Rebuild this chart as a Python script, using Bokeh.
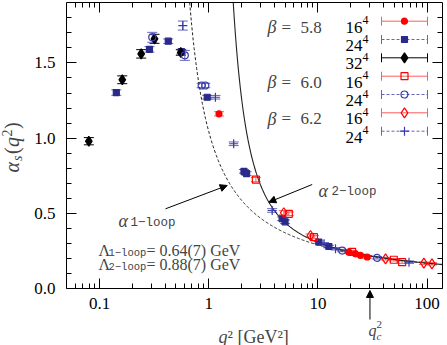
import numpy as np
from bokeh.plotting import figure
from bokeh.models import (ColumnDataSource, Whisker, TeeHead, Arrow, NormalHead, Label,
                          FixedTicker, LogAxis, LinearAxis, CustomJSTickFormatter, Range1d)
from bokeh.embed import file_html
from bokeh.resources import INLINE

# ---------------- data ----------------
# beta = 5.8, 16^4  (red filled circles)
b58_16_q2 = [1.24, 19.2, 22.1, 24.5, 28.3]
b58_16_a = [1.162, 0.243, 0.232, 0.222, 0.211]
b58_16_e = [0.014, 0.008, 0.008, 0.008, 0.008]
# beta = 5.8, 24^4  (blue filled squares)
b58_24_q2 = [0.142, 0.286, 0.425, 0.56, 0.967, 2.10, 2.22, 4.70, 5.00, 10.2, 12.6]
b58_24_a = [1.303, 1.590, 1.644, 1.575, 1.272, 0.780, 0.765, 0.465, 0.445, 0.310, 0.281]
b58_24_e = [0.018, 0.018, 0.015, 0.015, 0.012, 0.012, 0.012, 0.012, 0.012, 0.008, 0.008]
# beta = 5.8, 32^4  (black filled diamonds)
b58_32_q2 = [0.0795, 0.161, 0.240, 0.318, 0.554]
b58_32_a = [0.980, 1.388, 1.560, 1.660, 1.569]
b58_32_e = [0.024, 0.026, 0.028, 0.030, 0.018]
# beta = 6.0, 16^4  (red open squares)
b60_16_q2 = [2.70, 5.41, 9.2, 20.6, 49.6, 59.2]
b60_16_a = [0.725, 0.498, 0.343, 0.245, 0.193, 0.177]
b60_16_e = [0.014, 0.012, 0.010, 0.008, 0.008, 0.008]
# beta = 6.0, 24^4  (blue open circles)
b60_24_q2 = [0.303, 0.603, 0.86, 0.93, 16.7, 34.9]
b60_24_a = [1.670, 1.550, 1.350, 1.350, 0.254, 0.206]
b60_24_e = [0.033, 0.033, 0.015, 0.015, 0.008, 0.008]
# beta = 6.2, 16^4  (red open diamonds)
b62_16_q2 = [4.87, 8.55, 41.7, 93.6, 111.0]
b62_16_a = [0.505, 0.354, 0.199, 0.170, 0.166]
b62_16_e = [0.014, 0.010, 0.008, 0.008, 0.008]
# beta = 6.2, 24^4  (blue pluses)
b62_24_q2 = [0.578, 1.15, 1.69, 3.81, 11.4, 14.5, 68.4]
b62_24_a = [1.748, 1.272, 0.963, 0.520, 0.299, 0.266, 0.177]
b62_24_e = [0.030, 0.012, 0.012, 0.012, 0.008, 0.008, 0.008]

# fit parameters shown in the chart
LAMBDA_1LOOP = 0.64   # GeV
LAMBDA_2LOOP = 0.88   # GeV
QC2 = 30.0            # GeV^2
BETA0, BETA1 = 11.0, 102.0
BETA0_1LOOP_CURVE = 13.5

x_major = [0.1, 1, 10, 100]
x_minor = [0.06, 0.07, 0.08, 0.09, 0.2, 0.3, 0.4, 0.5, 0.6, 0.7, 0.8, 0.9,
           2, 3, 4, 5, 6, 7, 8, 9, 20, 30, 40, 50, 60, 70, 80, 90]
y_major = [0.0, 0.5, 1.0, 1.5]
y_minor = [0.1, 0.2, 0.3, 0.4, 0.6, 0.7, 0.8, 0.9, 1.1, 1.2, 1.3, 1.4, 1.6, 1.7, 1.8]

# ---------------- geometry helpers (page pixels of the reference -> data) ----------------
X_PX0, X_DEC = 208.3, 109.1
Y_PX0, Y_UNIT = 288.3, 150.6
W, H = 447, 345
BOX_L, BOX_R, BOX_T = 66, 442, 2


def qx(px):
    return 10 ** ((px - X_PX0) / X_DEC)


def ay(py):
    return (Y_PX0 - py) / Y_UNIT


X_LO, X_HI, Y_TOP = qx(BOX_L), qx(BOX_R), ay(BOX_T)

SERIF = "Liberation Serif"
MONO = "Liberation Mono"
RED = "#ff0000"
RED_BAR = "#ff5c5c"
BLUE = "#2a2a8c"
BLUE_BAR = "#6464bc"
BLUE_OPEN = "#3a3aa8"

p = figure(width=W, height=H, x_axis_type="log",
           x_range=Range1d(qx(0), qx(W)), y_range=Range1d(ay(H), ay(0)),
           output_backend="svg", toolbar_location=None,
           min_border_left=0, min_border_right=0, min_border_top=0, min_border_bottom=0)
p.grid.visible = False
p.outline_line_color = None


def style_axis(ax, ticks, minor, show_labels):
    ax.ticker = FixedTicker(ticks=ticks, minor_ticks=minor)
    ax.major_tick_in = 10
    ax.major_tick_out = 0
    ax.minor_tick_in = 5
    ax.minor_tick_out = 0
    ax.axis_line_color = "black"
    ax.major_tick_line_color = "black"
    ax.minor_tick_line_color = "black"
    if show_labels:
        ax.major_label_text_font = SERIF
        ax.major_label_text_font_size = "17px"
        ax.major_label_text_color = "black"
    else:
        ax.major_label_text_font_size = "1px"
        ax.major_label_text_alpha = 0
        ax.major_label_standoff = 0


xfmt = CustomJSTickFormatter(code="return tick < 1 ? tick.toFixed(1) : tick.toFixed(0);")
yfmt = CustomJSTickFormatter(code="return tick.toFixed(1);")

bx = p.xaxis[0]
style_axis(bx, x_major, x_minor, True)
bx.formatter = xfmt
bx.major_label_standoff = 9
bx.fixed_location = 0.0
bx.bounds = (X_LO, X_HI)

ly = p.yaxis[0]
style_axis(ly, y_major, y_minor, True)
ly.formatter = yfmt
ly.major_label_standoff = 11
ly.fixed_location = X_LO
ly.bounds = (0.0, Y_TOP)

top = LogAxis(fixed_location=Y_TOP, bounds=(X_LO, X_HI))
style_axis(top, x_major, x_minor, False)
p.add_layout(top, "above")
right = LinearAxis(fixed_location=X_HI, bounds=(0.0, Y_TOP))
style_axis(right, y_major, y_minor, False)
p.add_layout(right, "right")

# ---------------- theory curves (kept inside the axis box) ----------------
q1_top = LAMBDA_1LOOP ** 2 * np.exp(4 * np.pi / (BETA0_1LOOP_CURVE * Y_TOP))
q_1 = np.logspace(np.log10(q1_top), np.log10(X_HI), 400)
a_1 = 4 * np.pi / (BETA0_1LOOP_CURVE * np.log(q_1 / LAMBDA_1LOOP ** 2))
p.line(q_1, a_1, line_color="#222222", line_width=1, line_dash="3 2")


def alpha2(q2):
    L = np.log(q2 / LAMBDA_2LOOP ** 2)
    return 4 * np.pi / (BETA0 * L) * (1 - BETA1 / BETA0 ** 2 * np.log(L) / L)


lo_q, hi_q = 1.2, 5.0
for _ in range(60):
    mid = np.sqrt(lo_q * hi_q)
    if alpha2(mid) > Y_TOP:
        lo_q = mid
    else:
        hi_q = mid
q_2 = np.logspace(np.log10(hi_q), np.log10(X_HI), 400)
p.line(q_2, alpha2(q_2), line_color="#222222", line_width=1.1)

# ---------------- data points ----------------
series = [
    (b58_16_q2, b58_16_a, b58_16_e, "circle", 6, RED, RED, RED_BAR, "solid"),
    (b58_24_q2, b58_24_a, b58_24_e, "square", 6, BLUE, BLUE, BLUE_BAR, "3 2"),
    (b58_32_q2, b58_32_a, b58_32_e, "diamond", 10, "black", "black", "black", "solid"),
    (b60_16_q2, b60_16_a, b60_16_e, "square", 7, RED, None, RED_BAR, "solid"),
    (b60_24_q2, b60_24_a, b60_24_e, "circle", 7, BLUE_OPEN, None, BLUE_BAR, "3 2"),
    (b62_16_q2, b62_16_a, b62_16_e, "diamond", 10, RED, None, RED_BAR, "solid"),
    (b62_24_q2, b62_24_a, b62_24_e, "cross", 9, BLUE_OPEN, None, BLUE_BAR, "3 2"),
]

for q2, a, e, marker, size, lc, fc, bc, dash in series:
    a = np.array(a)
    e = np.array(e)
    src = ColumnDataSource(dict(x=q2, y=a, lo=a - e, hi=a + e))
    p.add_layout(Whisker(source=src, base="x", lower="lo", upper="hi", dimension="height",
                         line_color=bc, line_width=1,
                         upper_head=TeeHead(size=10, line_color=bc, line_width=1),
                         lower_head=TeeHead(size=10, line_color=bc, line_width=1)))
    p.scatter("x", "y", source=src, marker=marker, size=size, line_color=lc,
              fill_color=fc, line_width=1.2)

# ---------------- legend (hand-built, rows in reference page pixels) ----------------
row_px = [20.7, 39.0, 57.3, 75.7, 94.0, 112.3, 130.7]
lat_lbl = ["16", "24", "32", "16", "24", "16", "24"]
beta_lbl = {0: "5.8", 3: "6.0", 5: "6.2"}
for i, (q2, a, e, marker, size, lc, fc, bc, dash) in enumerate(series):
    yrow = ay(row_px[i])
    lsrc = ColumnDataSource(dict(y=[yrow], lo=[qx(381)], hi=[qx(427)], x=[qx(404)]))
    p.add_layout(Whisker(source=lsrc, base="y", lower="lo", upper="hi", dimension="width",
                         line_color=bc, line_width=1, line_dash=dash,
                         upper_head=TeeHead(size=9, line_color=bc, line_width=1),
                         lower_head=TeeHead(size=9, line_color=bc, line_width=1)))
    p.scatter("x", "y", source=dict(x=[qx(404)], y=[yrow]), marker=marker, size=size,
              line_color=lc, fill_color=fc, line_width=1.2)
    base = ay(row_px[i] + 6)
    p.add_layout(Label(x=qx(345), y=base, text=lat_lbl[i], text_font=SERIF,
                       text_font_size="17px", text_baseline="alphabetic", text_color="black"))
    p.add_layout(Label(x=qx(362), y=ay(row_px[i] - 1), text="4", text_font=SERIF,
                       text_font_size="12px", text_baseline="alphabetic", text_color="black"))
    if i in beta_lbl:
        p.add_layout(Label(x=qx(267), y=base, text="β", text_font=SERIF, text_font_style="italic",
                           text_font_size="18px", text_baseline="alphabetic"))
        p.add_layout(Label(x=qx(281), y=base, text="=", text_font=SERIF,
                           text_font_size="17px", text_baseline="alphabetic"))
        p.add_layout(Label(x=qx(300), y=base, text=beta_lbl[i], text_font=SERIF,
                           text_font_size="17px", text_baseline="alphabetic"))

# ---------------- annotations ----------------
head = dict(size=7, fill_color="black", line_color="black", line_width=1)
p.add_layout(Arrow(x_start=qx(165), y_start=ay(208.3), x_end=qx(226.7), y_end=ay(185),
                   line_color="black", line_width=1, end=NormalHead(**head)))
p.add_layout(Arrow(x_start=qx(311.7), y_start=ay(184), x_end=qx(268.3), y_end=ay(201.7),
                   line_color="black", line_width=1, end=NormalHead(**head)))
p.add_layout(Arrow(x_start=QC2, y_start=ay(319), x_end=QC2, y_end=ay(290),
                   line_color="black", line_width=1, end=NormalHead(**head)))

# alpha_1-loop
p.add_layout(Label(x=qx(118), y=ay(220), text="α", text_font=SERIF, text_font_style="italic",
                   text_font_size="18px", text_baseline="alphabetic"))
p.add_layout(Label(x=qx(130), y=ay(222), text="1−loop", text_font=MONO,
                   text_font_size="12.5px", text_baseline="alphabetic"))
# alpha_2-loop
p.add_layout(Label(x=qx(318), y=ay(190), text="α", text_font=SERIF, text_font_style="italic",
                   text_font_size="18px", text_baseline="alphabetic"))
p.add_layout(Label(x=qx(331), y=ay(191), text="2−loop", text_font=MONO,
                   text_font_size="12.5px", text_baseline="alphabetic"))
# Lambda values
for base_px, sub, val in [(250, "1−loop", f"= {LAMBDA_1LOOP:.2f}(7) GeV"),
                          (264, "2−loop", f"= {LAMBDA_2LOOP:.2f}(7) GeV")]:
    p.add_layout(Label(x=qx(98), y=ay(base_px), text="Λ", text_font=SERIF,
                       text_font_size="16px", text_baseline="alphabetic"))
    p.add_layout(Label(x=qx(108), y=ay(base_px + 2.5), text=sub, text_font=MONO,
                       text_font_size="10.5px", text_baseline="alphabetic"))
    p.add_layout(Label(x=qx(146), y=ay(base_px), text=val, text_font=SERIF,
                       text_font_size="16px", text_baseline="alphabetic"))

# q_c^2 label
p.add_layout(Label(x=qx(368), y=ay(330), text="q", text_font=SERIF, text_font_style="italic",
                   text_font_size="16px", text_baseline="alphabetic"))
p.add_layout(Label(x=qx(376), y=ay(324), text="2", text_font=SERIF,
                   text_font_size="11px", text_baseline="alphabetic"))
p.add_layout(Label(x=qx(376), y=ay(335), text="c", text_font=SERIF, text_font_style="italic",
                   text_font_size="11px", text_baseline="alphabetic"))

# x-axis title
p.add_layout(Label(x=qx(218), y=ay(336), text="q", text_font=SERIF, text_font_style="italic",
                   text_font_size="18px", text_baseline="alphabetic"))
p.add_layout(Label(x=qx(227), y=ay(336), text="² [GeV²]", text_font=SERIF,
                   text_font_size="18px", text_baseline="alphabetic"))

# y-axis title (rotated pieces, from bottom to top)
ang = np.pi / 2
for ypx, xpx, txt, size, style in [(172, 11, "α", "20px", "italic"),
                                   (160.5, 17, "s", "14px", "italic"),
                                   (153.5, 11, "(", "20px", "normal"),
                                   (146.5, 11, "q", "20px", "italic"),
                                   (136, 6, "2", "14px", "normal"),
                                   (128.5, 11, ")", "20px", "normal")]:
    p.add_layout(Label(x=qx(xpx), y=ay(ypx), text=txt, angle=ang, text_font=SERIF,
                       text_font_style=style, text_font_size=size,
                       text_align="left", text_baseline="middle"))

open("out.html", "w").write(file_html(p, INLINE))
